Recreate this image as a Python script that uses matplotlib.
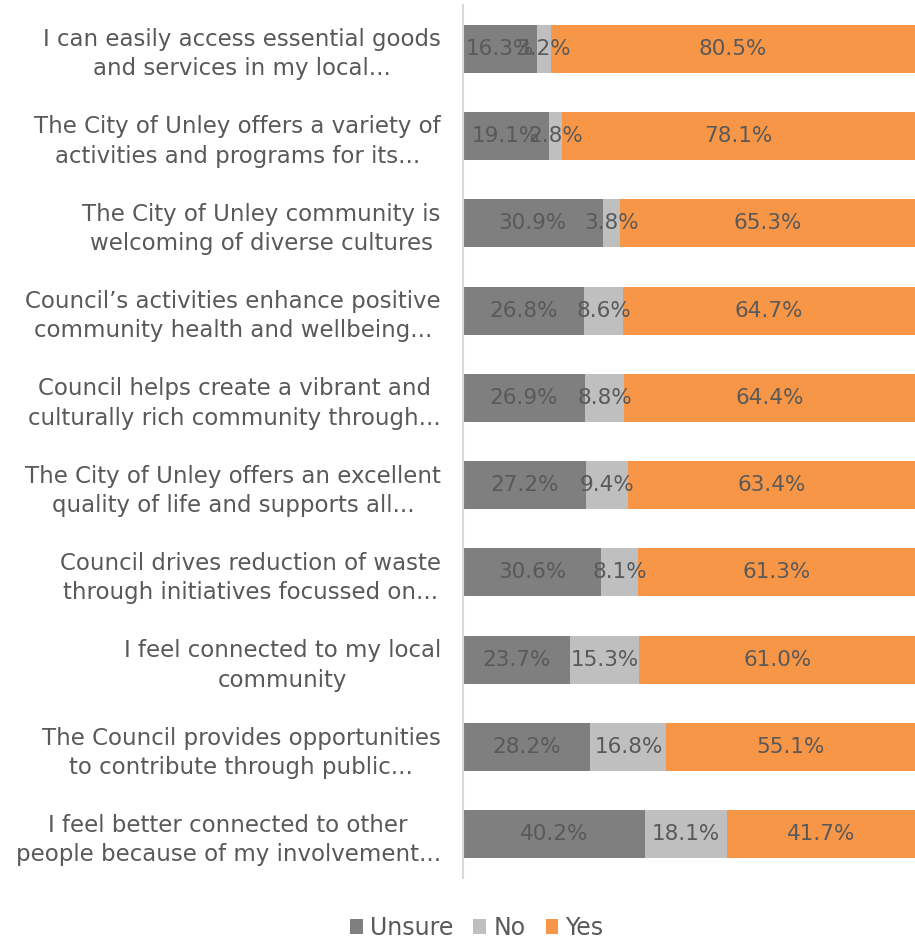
import matplotlib
matplotlib.use('Agg')
import matplotlib.pyplot as plt
import numpy as np

categories = [
    'I can easily access essential goods\nand services in my local...',
    'The City of Unley offers a variety of\nactivities and programs for its...',
    'The City of Unley community is\nwelcoming of diverse cultures',
    'Council\u2019s activities enhance positive\ncommunity health and wellbeing...',
    'Council helps create a vibrant and\nculturally rich community through...',
    'The City of Unley offers an excellent\nquality of life and supports all...',
    'Council drives reduction of waste\nthrough initiatives focussed on...',
    'I feel connected to my local\ncommunity',
    'The Council provides opportunities\nto contribute through public...',
    'I feel better connected to other\npeople because of my involvement...',
]
unsure = [16.3, 19.1, 30.9, 26.8, 26.9, 27.2, 30.6, 23.7, 28.2, 40.2]
no = [3.2, 2.8, 3.8, 8.6, 8.8, 9.4, 8.1, 15.3, 16.8, 18.1]
yes = [80.5, 78.1, 65.3, 64.7, 64.4, 63.4, 61.3, 61.0, 55.1, 41.7]

series = [('Unsure', unsure, '#7f7f7f'), ('No', no, '#bfbfbf'), ('Yes', yes, '#f79646')]
txt = '#595959'

fig = plt.figure(figsize=(9.15, 9.4), dpi=100)
ax = fig.add_axes([0.506, 0.066, 0.494, 0.9287])

y = np.arange(len(categories))
left = np.zeros(len(categories))
for name, vals, col in series:
    vals = np.array(vals)
    ax.barh(y, vals, left=left, height=0.55, color=col, label=name)
    for yi, l, v in zip(y, left, vals):
        ax.text(l + v / 2, yi, f'{v:.1f}%', ha='center', va='center',
                color=txt, fontsize=15.5)
    left += vals

ax.set_xlim(0, 100)
ax.set_ylim(len(categories) - 0.5, -0.5)
ax.set_yticks(y)
ax.set_yticklabels(categories, fontsize=16.5, color=txt, multialignment='center',
                   linespacing=1.35)
ax.tick_params(axis='y', length=0, pad=16)
ax.set_xticks([])
for s in ['top', 'right', 'bottom']:
    ax.spines[s].set_visible(False)
ax.spines['left'].set_color('#d9d9d9')
ax.spines['left'].set_linewidth(1.5)

fig.legend(loc='center', bbox_to_anchor=(0.521, 0.013), ncol=3, frameon=False,
           fontsize=17, labelcolor=txt, handlelength=0.55, handleheight=0.55,
           handletextpad=0.3, columnspacing=0.85)

fig.savefig('out.png', dpi=100)
